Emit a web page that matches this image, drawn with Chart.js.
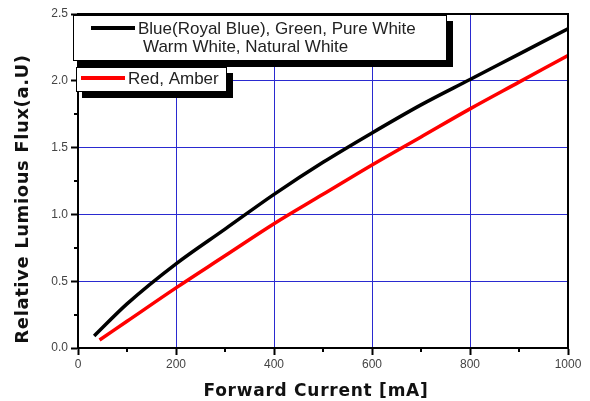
<!DOCTYPE html>
<html>
<head>
<meta charset="utf-8">
<script src="https://cdn.jsdelivr.net/npm/chart.js@4/dist/chart.umd.min.js"></script>
<style>
  html, body { margin: 0; padding: 0; background: #fff; }
  #wrap { width: 590px; height: 401px; position: relative; }
</style>
</head>
<body>
<div id="wrap"><canvas id="c" width="590" height="401"></canvas></div>
<script>
// Relative luminous flux vs forward current
const currentWhite = [33, 100, 200, 300, 400, 500, 600, 700, 800, 900, 1000];
const fluxWhite    = [0.09, 0.33, 0.63, 0.89, 1.15, 1.39, 1.61, 1.82, 2.01, 2.20, 2.39];
const currentRed   = [44, 100, 200, 300, 400, 500, 600, 700, 800, 900, 1000];
const fluxRed      = [0.06, 0.20, 0.45, 0.69, 0.93, 1.15, 1.37, 1.58, 1.79, 1.99, 2.19];

const legendWhite = ["Blue(Royal Blue), Green, Pure White", "Warm White, Natural White"];
const legendRed   = ["Red, Amber"];

const xMinor = [100, 300, 500, 700, 900];
const yMinor = [0.25, 0.75, 1.25, 1.75, 2.25];

const xTitle = "Forward Current [mA]";
const yTitle = "Relative Lumious Flux(a.U)";

const toPoints = (xs, ys) => xs.map((x, i) => ({ x: x, y: ys[i] }));

const TICK_FONT = { family: "'Liberation Sans', Arial, sans-serif", size: 12 };

// Frame, minor ticks, axis titles and the boxed legend
const decor = {
  id: 'decor',
  afterDraw(chart) {
    const ctx = chart.ctx;
    const a = chart.chartArea;
    const xs = chart.scales.x, ys = chart.scales.y;
    ctx.save();

    // plot frame
    ctx.strokeStyle = '#000';
    ctx.lineWidth = 2;
    ctx.strokeRect(a.left, a.top, a.right - a.left, a.bottom - a.top);

    // minor ticks
    ctx.lineWidth = 2;
    ctx.beginPath();
    xMinor.forEach(v => {
      const p = Math.round(xs.getPixelForValue(v));
      ctx.moveTo(p, a.bottom);
      ctx.lineTo(p, a.bottom + 4);
    });
    yMinor.forEach(v => {
      const p = Math.round(ys.getPixelForValue(v));
      ctx.moveTo(a.left - 4, p);
      ctx.lineTo(a.left, p);
    });
    ctx.stroke();

    // axis titles
    ctx.fillStyle = '#111';
    ctx.textAlign = 'center';
    ctx.textBaseline = 'middle';
    ctx.font = "bold 17px 'DejaVu Sans', Verdana, sans-serif";
    ctx.letterSpacing = '0.75px';
    ctx.fillText(xTitle, 316, 392);
    ctx.save();
    ctx.font = "bold 18px 'DejaVu Sans', Verdana, sans-serif";
    ctx.letterSpacing = '0.6px';
    ctx.translate(23, 199);
    ctx.rotate(-Math.PI / 2);
    ctx.fillText(yTitle, 0, 0);
    ctx.restore();
    ctx.letterSpacing = '0px';

    // legend boxes with drop shadow
    const box = (x, y, w, h) => {
      ctx.fillStyle = '#000';
      ctx.fillRect(x + 6, y + 6, w, h);
      ctx.fillStyle = '#fff';
      ctx.fillRect(x, y, w, h);
      ctx.lineWidth = 1;
      ctx.strokeStyle = '#000';
      ctx.strokeRect(x + 0.5, y + 0.5, w - 1, h - 1);
    };
    const sample = (x1, x2, y, color) => {
      ctx.strokeStyle = color;
      ctx.lineWidth = 4;
      ctx.beginPath();
      ctx.moveTo(x1, y);
      ctx.lineTo(x2, y);
      ctx.stroke();
    };
    ctx.font = "17px 'Liberation Sans', Arial, sans-serif";
    ctx.textAlign = 'left';
    ctx.textBaseline = 'middle';

    box(73, 15, 374, 46);
    sample(91, 135, 28, '#000');
    ctx.fillStyle = '#222';
    ctx.fillText(legendWhite[0], 138, 29);
    ctx.fillText(legendWhite[1], 143, 47);

    box(76, 67, 151, 25);
    sample(81, 125, 78, '#ff0000');
    ctx.fillStyle = '#222';
    ctx.fillText(legendRed[0], 128, 79);

    ctx.restore();
  }
};

new Chart(document.getElementById('c'), {
  type: 'line',
  data: {
    datasets: [
      {
        label: legendWhite.join(' '),
        data: toPoints(currentWhite, fluxWhite),
        borderColor: '#000',
        borderWidth: 3.5,
        pointRadius: 0,
        cubicInterpolationMode: 'monotone',
        fill: false
      },
      {
        label: legendRed.join(' '),
        data: toPoints(currentRed, fluxRed),
        borderColor: '#ff0000',
        borderWidth: 3.5,
        pointRadius: 0,
        cubicInterpolationMode: 'monotone',
        fill: false
      }
    ]
  },
  options: {
    responsive: false,
    animation: false,
    layout: { padding: { top: 14, right: 22, left: 0, bottom: 0 } },
    plugins: { legend: { display: false }, tooltip: { enabled: false } },
    scales: {
      x: {
        type: 'linear',
        min: 0, max: 1000,
        afterFit: s => { s.height = 53; },
        ticks: { stepSize: 200, font: TICK_FONT, color: '#444', padding: 2, maxRotation: 0, callback: v => String(v) },
        grid: { color: '#2a2ad0', lineWidth: 1, tickColor: '#000', tickLength: 7, tickWidth: 2 },
        border: { color: '#000', width: 2 }
      },
      y: {
        min: 0, max: 2.5,
        afterFit: s => { s.width = 78; },
        ticks: { stepSize: 0.5, font: TICK_FONT, color: '#444', padding: 3, callback: v => v.toFixed(1) },
        grid: { color: '#2a2ad0', lineWidth: 1, tickColor: '#000', tickLength: 7, tickWidth: 2 },
        border: { color: '#000', width: 2 }
      }
    }
  },
  plugins: [decor]
});
</script>
</body>
</html>
